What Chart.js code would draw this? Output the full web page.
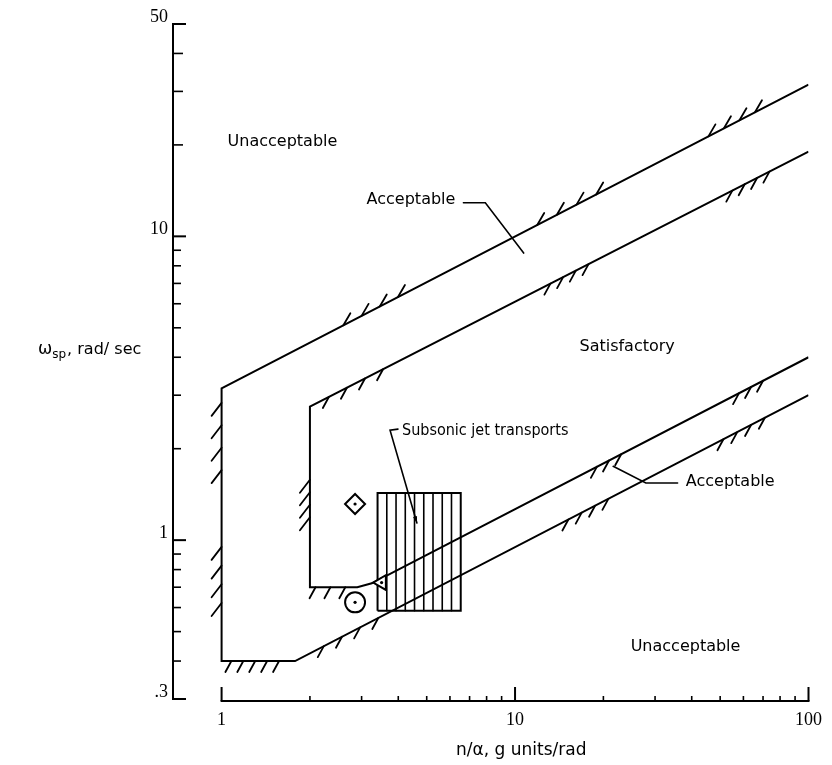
<!DOCTYPE html>
<html><head><meta charset="utf-8">
<script src="https://cdn.jsdelivr.net/npm/chart.js@4/dist/chart.umd.min.js"></script>
<style>html,body{margin:0;padding:0;background:#fff;} canvas{display:block;}</style>
</head><body>
<canvas id="c" width="832" height="765"></canvas>
<script>
// ---- axis values ----
const X_TICKS = [1, 10, 100];
const X_MINOR = [2, 3, 4, 5, 6, 7, 8, 9, 20, 30, 40, 50, 60, 70, 80, 90];
const Y_TICKS = [50, 10, 1, 0.3];
const Y_MINOR = [40, 30, 20, 9, 8, 7, 6, 5, 4, 3, 2, 0.9, 0.8, 0.7, 0.6, 0.5, 0.4];
const X_RANGE = [0.683, 100];
const Y_RANGE = [0.3, 50];

// ---- Level 2 ("Acceptable") boundary ----
const OUTER_X = [100, 1, 1, 1.78, 100];
const OUTER_Y = [31.6, 3.16, 0.4, 0.4, 3.0];
// ---- Level 1 ("Satisfactory") boundary ----
const INNER_X = [100, 2, 2, 2.9, 3.25, 100];
const INNER_Y = [19, 2.75, 0.7, 0.7, 0.721, 4.0];
// ---- Subsonic jet transports region ----
const JET_X = [3.4, 6.53, 6.53, 3.4, 3.4];
const JET_Y = [0.586, 0.586, 1.43, 1.43, 0.586];
// ---- individual aircraft symbols ----
const SYM_X = [2.85, 2.85, 3.51];
const SYM_Y = [1.315, 0.624, 0.725];
const SYM_STYLE = ['rectRot', 'circle', 'triangle'];

// ---- boundary hatching: [boundary, segment, from, to, count, side] ----
const HATCH = [
  ['outer', 0, 2.6, 3.99, 4, 'up'],
  ['outer', 0, 11.9, 18.9, 4, 'up'],
  ['outer', 0, 45.6, 65.7, 4, 'up'],
  ['outer', 1, 2.83, 1.70, 4, 'left'],
  ['outer', 1, 0.95, 0.621, 4, 'left'],
  ['outer', 2, 1.08, 1.57, 5, 'down'],
  ['outer', 3, 2.23, 3.42, 4, 'down'],
  ['outer', 3, 15.2, 20.8, 4, 'down'],
  ['outer', 3, 51.3, 71, 4, 'down'],
  ['inner', 0, 2.32, 3.55, 4, 'down'],
  ['inner', 0, 13.2, 17.8, 4, 'down'],
  ['inner', 0, 55, 73.6, 4, 'down'],
  ['inner', 1, 1.58, 1.19, 4, 'left'],
  ['inner', 2, 2.09, 2.64, 3, 'down'],
  ['inner', 4, 19, 23, 3, 'down'],
  ['inner', 4, 58, 70, 3, 'down']
];

// ---- text labels ----
const LABEL_TEXT = ['Unacceptable', 'Acceptable', 'Satisfactory', 'Subsonic jet transports', 'Acceptable', 'Unacceptable'];
const LABEL_X = [1.048, 4.42, 24.1, 4.12, 54.1, 38.1];
const LABEL_Y = [20.4, 13.2, 4.32, 2.29, 1.554, 0.445];
const LABEL_ALIGN = ['left', 'center', 'center', 'left', 'center', 'center'];
const LABEL_COND = [false, false, false, true, false, false];
const X_TITLE = 'n/α, g units/rad';
const Y_TITLE = ['ω', 'sp', ', rad/ sec'];
// leader lines
const LEADERS = [
  [[6.67, 12.9], [7.92, 12.9], [10.7, 8.81]],
  [[3.99, 2.32], [3.75, 2.30], [4.63, 1.139]],
  [[35.8, 1.542], [27.9, 1.542], [21.6, 1.75]]
];

const BOUNDS = {
  outer: OUTER_X.map((x, i) => [x, OUTER_Y[i]]),
  inner: INNER_X.map((x, i) => [x, INNER_Y[i]])
};
const pts = (xs, ys) => xs.map((x, i) => ({x: x, y: ys[i]}));

const FONT_TXT = '"DejaVu Sans", sans-serif';
const FONT_COND = '"DejaVu Sans Condensed", "DejaVu Sans", sans-serif';
const FONT_NUM = '"Liberation Serif", serif';

const decor = {
  id: 'decor',
  afterDatasetsDraw(chart) {
    const ctx = chart.ctx, xs = chart.scales.x, ys = chart.scales.y, ca = chart.chartArea;
    const P = (x, y) => [xs.getPixelForValue(x), ys.getPixelForValue(y)];
    const seg = (a, b) => { ctx.beginPath(); ctx.moveTo(a[0], a[1]); ctx.lineTo(b[0], b[1]); ctx.stroke(); };
    ctx.save();
    ctx.strokeStyle = '#000'; ctx.fillStyle = '#000'; ctx.lineCap = 'round';

    // jet transport stripes
    const x0 = xs.getPixelForValue(Math.min(...JET_X)), x1 = xs.getPixelForValue(Math.max(...JET_X));
    const y0 = ys.getPixelForValue(Math.max(...JET_Y)), y1 = ys.getPixelForValue(Math.min(...JET_Y));
    const nStripes = 9;
    ctx.lineWidth = 1.6;
    for (let i = 1; i < nStripes; i++) {
      const x = x0 + (x1 - x0) * i / nStripes;
      seg([x, y0], [x, y1]);
    }

    // hatching
    const OFF = {up: [7, -12], down: [-6, 11], left: [-10, 13]};
    ctx.lineWidth = 1.8;
    HATCH.forEach(h => {
      const b = BOUNDS[h[0]], s = h[1];
      const pa = P(b[s][0], b[s][1]), pb = P(b[s + 1][0], b[s + 1][1]);
      const vertical = Math.abs(pa[0] - pb[0]) < 0.5;
      let ta, tb;
      if (vertical) {
        ta = (ys.getPixelForValue(h[2]) - pa[1]) / (pb[1] - pa[1]);
        tb = (ys.getPixelForValue(h[3]) - pa[1]) / (pb[1] - pa[1]);
      } else {
        ta = (xs.getPixelForValue(h[2]) - pa[0]) / (pb[0] - pa[0]);
        tb = (xs.getPixelForValue(h[3]) - pa[0]) / (pb[0] - pa[0]);
      }
      const n = h[4], o = OFF[h[5]];
      for (let i = 0; i < n; i++) {
        const t = ta + (tb - ta) * (n === 1 ? 0 : i / (n - 1));
        const bx = pa[0] + (pb[0] - pa[0]) * t, by = pa[1] + (pb[1] - pa[1]) * t;
        seg([bx, by], [bx + o[0], by + o[1]]);
      }
    });

    // leaders
    ctx.lineWidth = 1.6;
    LEADERS.forEach(L => {
      ctx.beginPath();
      L.forEach((p, i) => { const q = P(p[0], p[1]); if (i) ctx.lineTo(q[0], q[1]); else ctx.moveTo(q[0], q[1]); });
      ctx.stroke();
    });
    {
      const L = LEADERS[1];
      const a = P(L[1][0], L[1][1]), b = P(L[2][0], L[2][1]);
      const ang = Math.atan2(b[1] - a[1], b[0] - a[0]);
      ctx.beginPath();
      ctx.moveTo(b[0], b[1]);
      ctx.lineTo(b[0] - 7 * Math.cos(ang - 0.3), b[1] - 7 * Math.sin(ang - 0.3));
      ctx.lineTo(b[0] - 7 * Math.cos(ang + 0.3), b[1] - 7 * Math.sin(ang + 0.3));
      ctx.closePath(); ctx.fill();
    }

    // labels
    ctx.textBaseline = 'middle';
    LABEL_TEXT.forEach((t, i) => {
      ctx.font = '16px ' + (LABEL_COND[i] ? FONT_COND : FONT_TXT);
      ctx.textAlign = LABEL_ALIGN[i];
      const q = P(LABEL_X[i], LABEL_Y[i]);
      ctx.fillText(t, q[0], q[1]);
    });

    // axes
    ctx.lineCap = 'butt';
    ctx.lineWidth = 2;
    const ax = ca.left;
    seg([ax, ys.getPixelForValue(Y_RANGE[1]) - 1], [ax, ys.getPixelForValue(Y_RANGE[0]) + 1]);
    Y_TICKS.forEach(v => { const y = ys.getPixelForValue(v); seg([ax, y], [ax + 13, y]); });
    ctx.lineWidth = 1.6;
    Y_MINOR.forEach(v => { const y = ys.getPixelForValue(v); seg([ax, y], [ax + (v >= 20 ? 10 : 8), y]); });
    ctx.lineWidth = 2;
    const by = ca.bottom + 2;
    seg([xs.getPixelForValue(X_TICKS[0]) - 1, by], [xs.getPixelForValue(X_TICKS[X_TICKS.length - 1]) + 1, by]);
    X_TICKS.forEach(v => { const x = xs.getPixelForValue(v); seg([x, by], [x, by - 14]); });
    ctx.lineWidth = 1.6;
    X_MINOR.forEach(v => { const x = xs.getPixelForValue(v); seg([x, by], [x, by - 5]); });

    // x-axis title
    ctx.textAlign = 'center'; ctx.textBaseline = 'middle';
    ctx.font = '17px ' + FONT_TXT;
    ctx.fillText(X_TITLE, xs.getPixelForValue(10.5), ca.bottom + 52);

    // y-axis title (horizontal)
    ctx.textAlign = 'left'; ctx.textBaseline = 'alphabetic';
    const tx = 38, ty = ys.getPixelForValue(3.0) - 41;
    ctx.font = '17px ' + FONT_TXT;
    ctx.fillText(Y_TITLE[0], tx, ty);
    let w = ctx.measureText(Y_TITLE[0]).width;
    ctx.font = '12px ' + FONT_TXT;
    ctx.fillText(Y_TITLE[1], tx + w, ty + 4);
    w += ctx.measureText(Y_TITLE[1]).width;
    ctx.font = '16px ' + FONT_TXT;
    ctx.fillText(Y_TITLE[2], tx + w + 1, ty);
    ctx.restore();
  }
};

new Chart(document.getElementById('c'), {
  type: 'scatter',
  data: {
    datasets: [
      {data: pts(OUTER_X, OUTER_Y), showLine: true, borderColor: '#000', borderWidth: 2, pointRadius: 0, fill: false, order: 3},
      {data: pts(INNER_X, INNER_Y), showLine: true, borderColor: '#000', borderWidth: 2, pointRadius: 0, fill: false, order: 3},
      {data: pts(JET_X, JET_Y), showLine: true, borderColor: '#000', borderWidth: 2, pointRadius: 0, fill: false, order: 3},
      {data: pts(SYM_X, SYM_Y), showLine: false, pointStyle: SYM_STYLE, pointRadius: [10, 10, 8.5],
       pointRotation: [0, 0, -90], borderColor: '#000', backgroundColor: '#fff', pointBorderWidth: 2, order: 1},
      {data: pts(SYM_X, SYM_Y), showLine: false, pointStyle: 'circle', pointRadius: 1.6,
       borderColor: '#000', backgroundColor: '#000', pointBorderWidth: 0, order: 0}
    ]
  },
  options: {
    responsive: false, animation: false, devicePixelRatio: 1,
    layout: {padding: {left: 150, right: 18, top: 24, bottom: 0}},
    plugins: {legend: {display: false}, tooltip: {enabled: false}},
    scales: {
      x: {
        type: 'logarithmic', min: X_RANGE[0], max: X_RANGE[1],
        grid: {display: false, drawTicks: false}, border: {display: false},
        afterBuildTicks: s => { s.ticks = X_TICKS.map(v => ({value: v})); },
        afterFit: s => { s.height = 66; },
        ticks: {font: {family: FONT_NUM, size: 18}, color: '#000', padding: 10, maxRotation: 0, autoSkip: false,
                callback: v => String(v)}
      },
      y: {
        type: 'logarithmic', min: Y_RANGE[0], max: Y_RANGE[1],
        grid: {display: false, drawTicks: false}, border: {display: false},
        afterBuildTicks: s => { s.ticks = Y_TICKS.map(v => ({value: v})); },
        afterFit: s => { s.width = 23; },
        ticks: {font: {family: FONT_NUM, size: 18}, color: '#000', padding: 5, labelOffset: -7, autoSkip: false,
                callback: v => (v < 1 ? '.' + Math.round(v * 10) : String(v))}
      }
    }
  },
  plugins: [decor]
});
</script>
</body></html>
